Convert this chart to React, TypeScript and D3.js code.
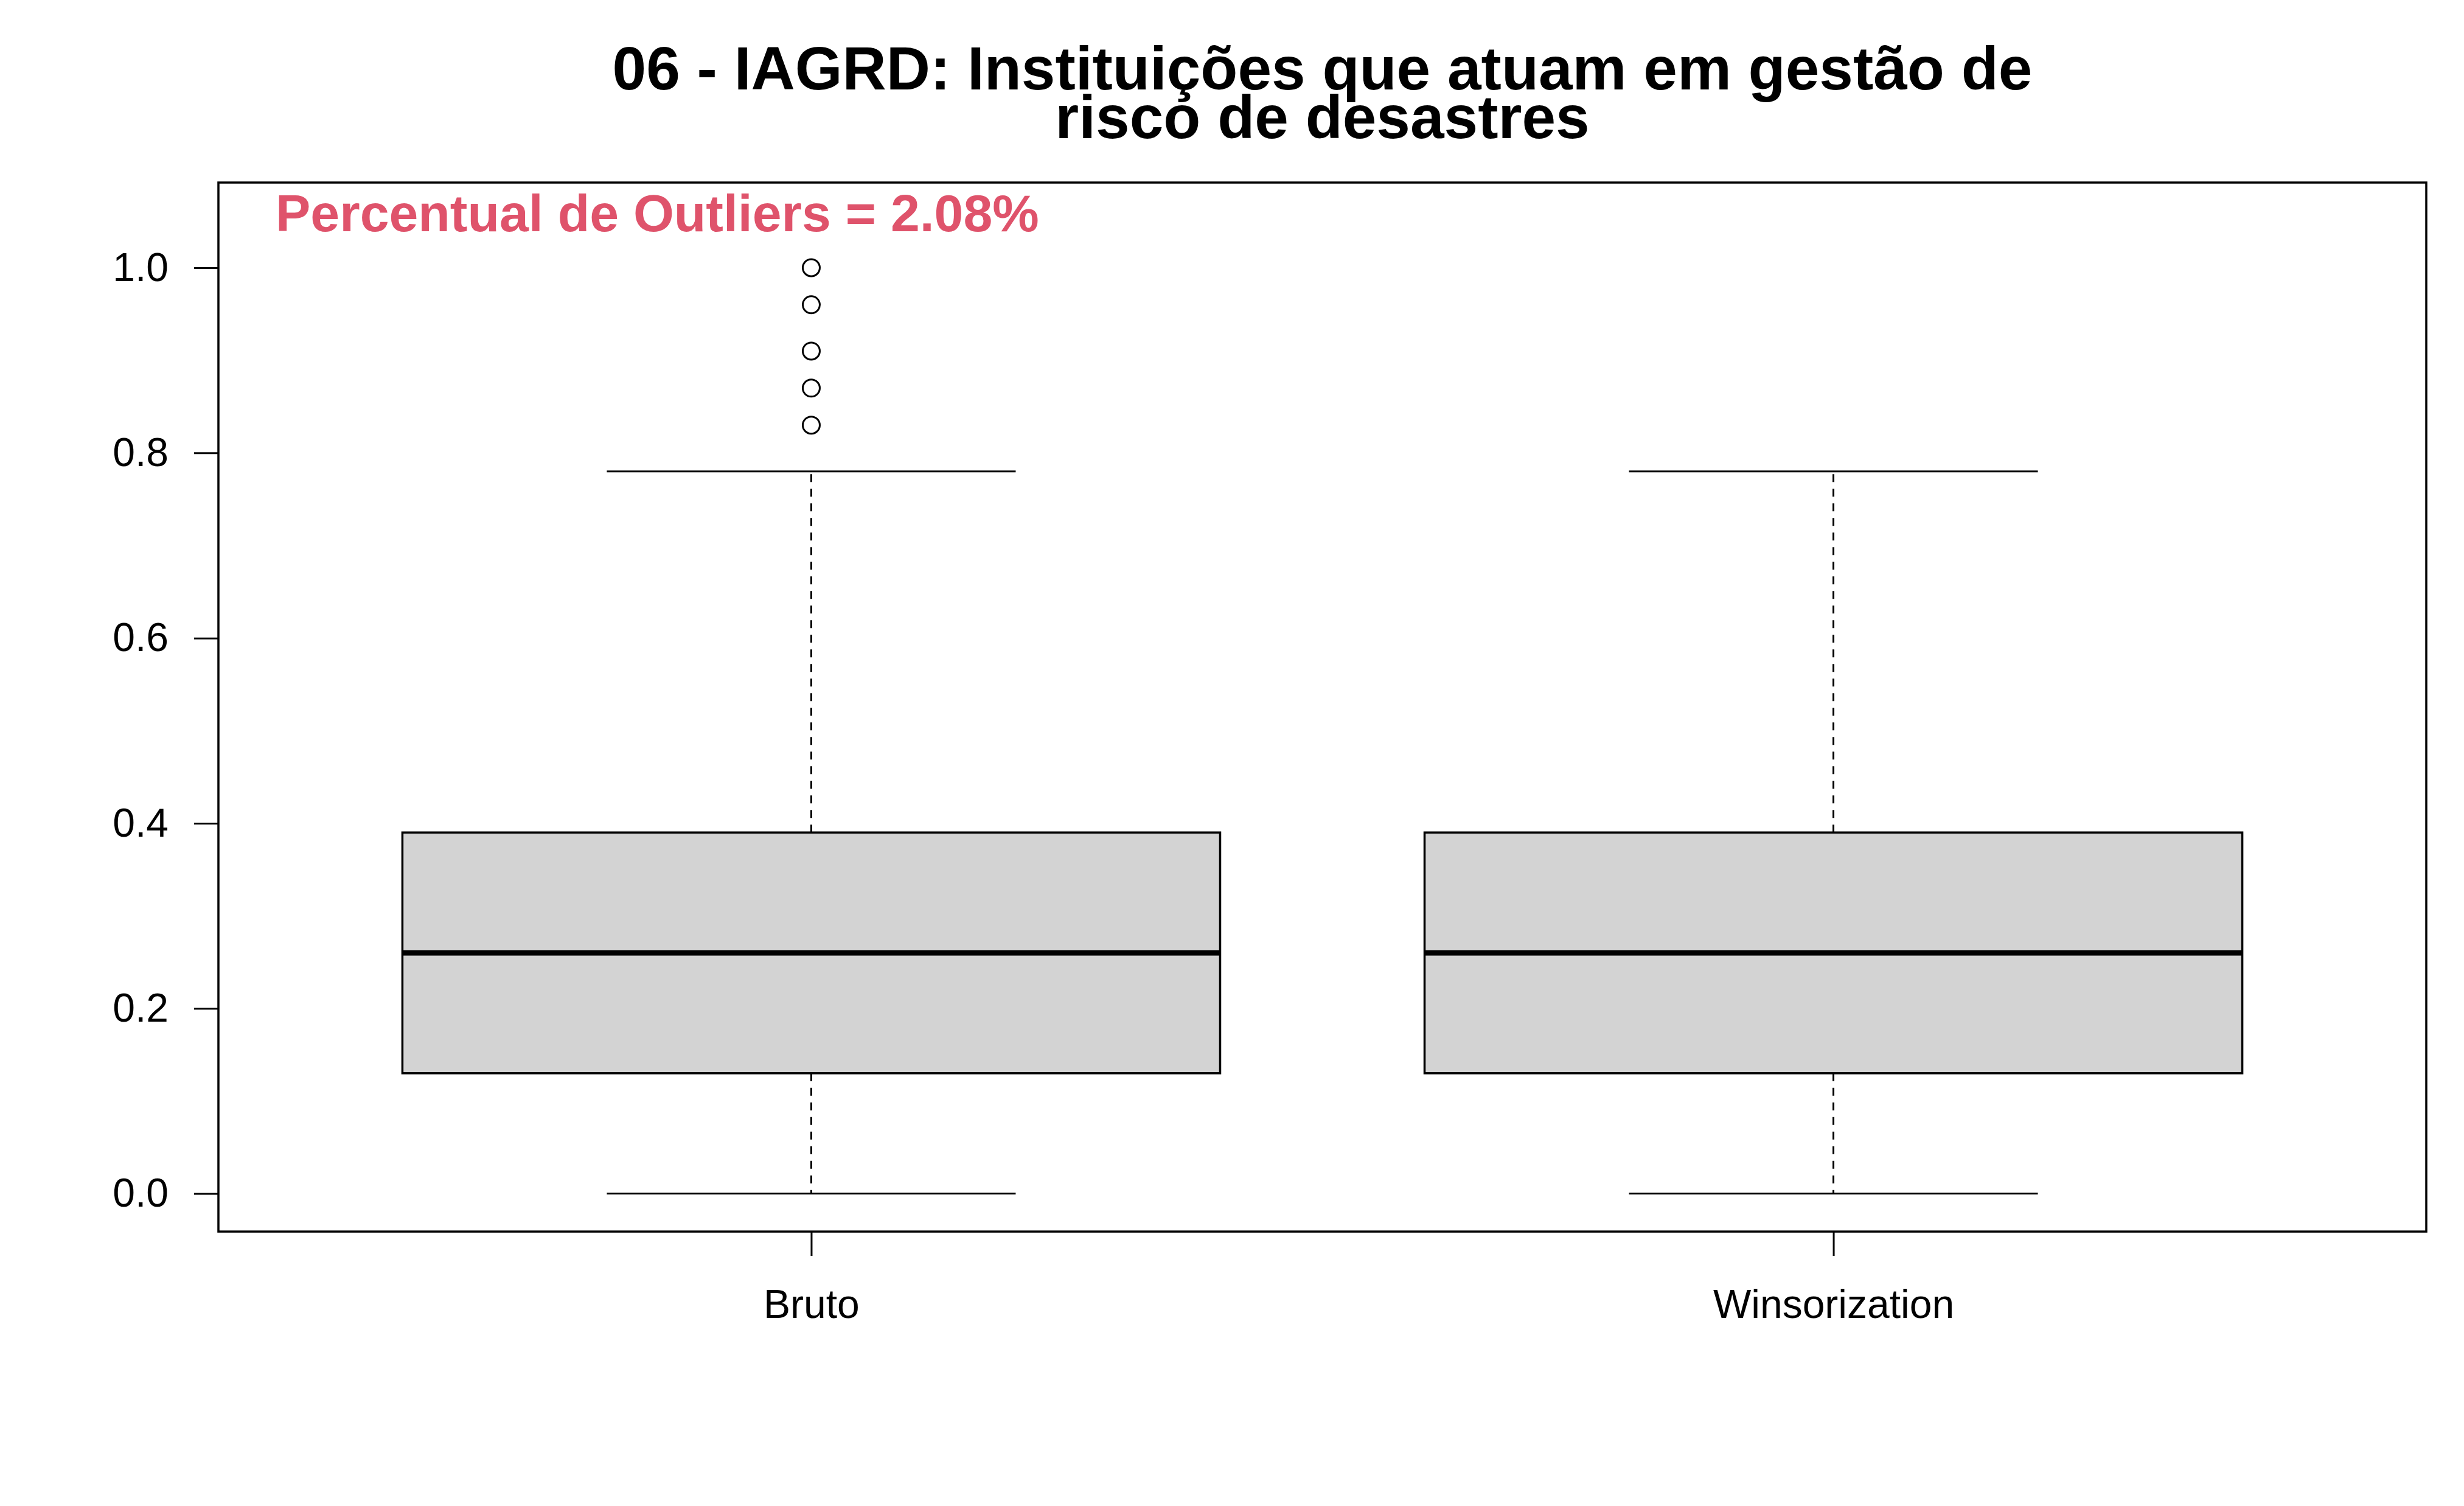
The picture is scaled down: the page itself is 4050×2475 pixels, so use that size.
import * as d3 from "d3";
import React, { useEffect, useRef } from "react";

// chart data
const groups = ["Bruto", "Winsorization"];
const lowerWhisker = [0.0, 0.0];
const q1 = [0.13, 0.13];
const median = [0.26, 0.26];
const q3 = [0.39, 0.39];
const upperWhisker = [0.78, 0.78];
const outliers: number[][] = [[1.0, 0.96, 0.91, 0.87, 0.83], []];
const yTicks = [0.0, 0.2, 0.4, 0.6, 0.8, 1.0];
const titleLines = ["06 - IAGRD: Instituições que atuam em gestão de", "risco de desastres"];
const outlierNote = "Percentual de Outliers = 2.08%";

export default function App() {
  const svgRef = useRef<SVGSVGElement>(null);

  const width = 4050;
  const height = 2475;
  const marginLeft = 359;
  const marginRight = 62;
  const marginTop = 300;
  const marginBottom = 451;
  const font = "'Liberation Sans', Arial, sans-serif";

  useEffect(() => {
    if (!svgRef.current) return;
    document.body.style.margin = "0";

    const svg = d3.select(svgRef.current);
    svg.selectAll("*").remove();

    const x = d3.scaleLinear([0.42, 2.58], [marginLeft, width - marginRight]);
    const y = d3.scaleLinear([-0.041, 1.092], [height - marginBottom, marginTop]);
    const boxHalf = 0.4;
    const capHalf = 0.2;

    // title
    const cxTitle = (marginLeft + width - marginRight) / 2;
    const title = svg
      .append("text")
      .attr("text-anchor", "middle")
      .attr("font-family", font)
      .attr("font-weight", "bold")
      .attr("font-size", 100)
      .attr("fill", "#000");
    titleLines.forEach((t, i) => {
      title.append("tspan").attr("x", cxTitle).attr("y", 147 + i * 80).text(t);
    });

    // boxes
    groups.forEach((g, i) => {
      const cx = x(i + 1);
      const gg = svg.append("g");

      // whiskers (dashed)
      gg.append("line")
        .attr("x1", cx).attr("x2", cx)
        .attr("y1", y(q3[i])).attr("y2", y(upperWhisker[i]))
        .attr("stroke", "#000").attr("stroke-width", 3)
        .attr("stroke-dasharray", "13 11");
      gg.append("line")
        .attr("x1", cx).attr("x2", cx)
        .attr("y1", y(q1[i])).attr("y2", y(lowerWhisker[i]))
        .attr("stroke", "#000").attr("stroke-width", 3)
        .attr("stroke-dasharray", "13 11");

      // caps
      [upperWhisker[i], lowerWhisker[i]].forEach((v) => {
        gg.append("line")
          .attr("x1", x(i + 1 - capHalf)).attr("x2", x(i + 1 + capHalf))
          .attr("y1", y(v)).attr("y2", y(v))
          .attr("stroke", "#000").attr("stroke-width", 3);
      });

      // box
      gg.append("rect")
        .attr("x", x(i + 1 - boxHalf))
        .attr("y", y(q3[i]))
        .attr("width", x(i + 1 + boxHalf) - x(i + 1 - boxHalf))
        .attr("height", y(q1[i]) - y(q3[i]))
        .attr("fill", "#D3D3D3")
        .attr("stroke", "#000")
        .attr("stroke-width", 3.5);

      // median
      gg.append("line")
        .attr("x1", x(i + 1 - boxHalf)).attr("x2", x(i + 1 + boxHalf))
        .attr("y1", y(median[i])).attr("y2", y(median[i]))
        .attr("stroke", "#000").attr("stroke-width", 9);

      // outliers
      outliers[i].forEach((v) => {
        gg.append("circle")
          .attr("cx", cx).attr("cy", y(v)).attr("r", 14)
          .attr("fill", "none").attr("stroke", "#000").attr("stroke-width", 3);
      });
    });

    // frame
    svg.append("rect")
      .attr("x", marginLeft).attr("y", marginTop)
      .attr("width", width - marginLeft - marginRight)
      .attr("height", height - marginTop - marginBottom)
      .attr("fill", "none").attr("stroke", "#000").attr("stroke-width", 3.5);

    // y axis
    const yAxis = d3.axisLeft<number>(y)
      .tickValues(yTicks)
      .tickSize(40)
      .tickPadding(42)
      .tickFormat(d3.format(".1f"));
    svg.append("g")
      .attr("transform", `translate(${marginLeft},0)`)
      .call(yAxis)
      .call((g) => g.select(".domain").remove())
      .call((g) => g.selectAll(".tick line").attr("stroke-width", 3))
      .call((g) =>
        g.selectAll(".tick text")
          .attr("font-family", font)
          .attr("font-size", 66)
          .attr("fill", "#000")
      );

    // x axis
    const xAxis = d3.axisBottom<number>(x)
      .tickValues(groups.map((_, i) => i + 1))
      .tickSize(40)
      .tickPadding(55)
      .tickFormat((d) => groups[d - 1]);
    svg.append("g")
      .attr("transform", `translate(0,${height - marginBottom})`)
      .call(xAxis)
      .call((g) => g.select(".domain").remove())
      .call((g) => g.selectAll(".tick line").attr("stroke-width", 3))
      .call((g) =>
        g.selectAll(".tick text")
          .attr("font-family", font)
          .attr("font-size", 66)
          .attr("fill", "#000")
      );

    // outlier percentage note
    svg.append("text")
      .attr("x", 453)
      .attr("y", 380)
      .attr("font-family", font)
      .attr("font-weight", "bold")
      .attr("font-size", 86)
      .attr("fill", "#DF536B")
      .text(outlierNote);
  }, []);

  return (
    <svg
      ref={svgRef}
      width={width}
      height={height}
      viewBox={`0 0 ${width} ${height}`}
      style={{ display: "block", background: "#fff" }}
    />
  );
}
